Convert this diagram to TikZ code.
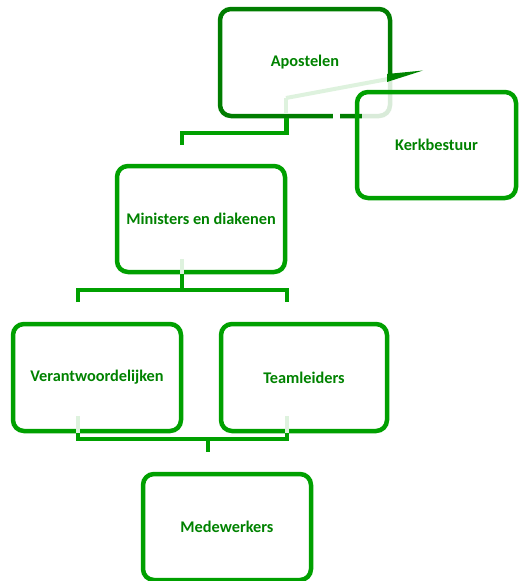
\documentclass[tikz,border=0pt]{standalone}
\usepackage{fontspec}
\setmainfont{Carlito}
\definecolor{boxg}{RGB}{0,160,0}
\definecolor{darkg}{RGB}{0,125,0}
\definecolor{textg}{RGB}{0,130,0}
\definecolor{faint}{RGB}{222,242,222}
\begin{document}
\begin{tikzpicture}[x=1pt,y=-1pt,
  box/.style={draw=boxg,line width=4.5pt,rounded corners=11pt,fill=none,
    font=\fontsize{16.3}{19}\selectfont\bfseries,text=textg},
  conn/.style={draw=boxg,line width=4.5pt},
  fconn/.style={draw=faint,line width=4.5pt}]
\useasboundingbox (0,0) rectangle (519,581);
% Apostelen
\node[box,draw=darkg,minimum width=170pt,minimum height=107pt] (apo) at (305,62.5) {Apostelen};
% fading of its lower right part
\fill[white,opacity=0.85] (362,75) rectangle (395,121);
\fill[white] (333,111) rectangle (340,121);
\draw[fconn,line width=4pt] (286,98) -- (388,79);
\draw[fconn] (286,98) -- (286,113.5);
\fill[darkg!80!boxg] (387,74) -- (423,70.5) -- (387,82) -- cycle;
% Kerkbestuur
\node[box,minimum width=159pt,minimum height=106pt] (kerk) at (436.5,145) {Kerkbestuur};
% Ministers
\node[box,minimum width=168pt,minimum height=106pt] (min) at (201,219) {Ministers en diakenen};
\node[box,minimum width=168pt,minimum height=107pt] (ver) at (97,377.5) {Verantwoordelijken};
\node[box,minimum width=166pt,minimum height=107pt] (team) at (304,377.5) {Teamleiders};
\node[box,minimum width=168pt,minimum height=106pt] (mede) at (227,527) {Medewerkers};
% connectors
\coordinate (a1) at (286.5,145);
\draw[conn] (apo.south -| a1) -- (286.5,133) -- (182,133) -- (182,145);
\draw[fconn] (182,259) -- (min.south -| 182,0);
\draw[conn] (min.south -| 182,0) -- (182,290);
\draw[conn] (78,302) -- (78,290) -- (287,290) -- (287,302);
\draw[fconn] (78,416) -- (ver.south -| 78,0);
\draw[fconn] (287,416) -- (team.south -| 287,0);
\draw[conn] (ver.south -| 78,0) -- (78,439) -- (287,439) -- (team.south -| 287,0);
\draw[conn] (208,439) -- (208,452);
\end{tikzpicture}
\end{document}
